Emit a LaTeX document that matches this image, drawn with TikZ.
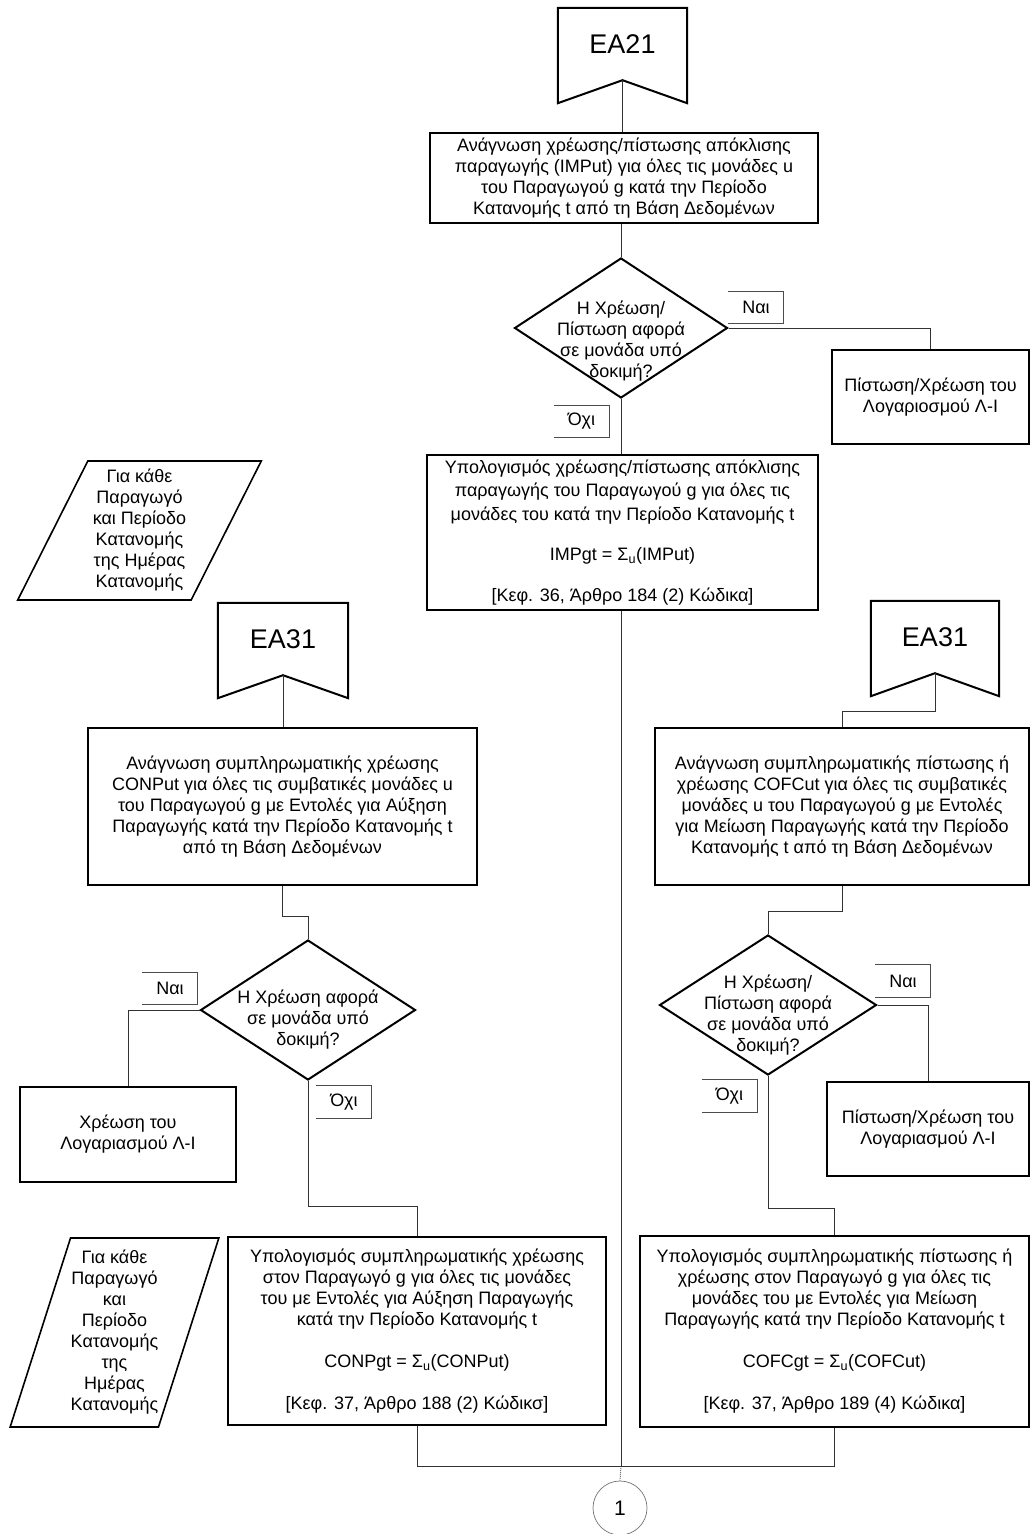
\documentclass[tikz,border=0pt]{standalone}
\usepackage{fontspec}
\setmainfont{Liberation Sans}
\usetikzlibrary{shapes.geometric, positioning}

\begin{document}
\begin{tikzpicture}[x=1pt, y=-1pt,
          font=\fontsize{18}{21}\selectfont,
          conn/.style={line width=1pt, draw=black!80},
          process/.style={draw, rectangle, line width=2pt, align=center, inner sep=2pt},
          decision/.style={draw, diamond, line width=2pt, inner sep=0pt, minimum width=213pt, minimum height=140pt},
          dtext/.style={align=center, inner sep=0pt},
          loopbox/.style={draw, trapezium, trapezium stretches=true, line width=1.6pt, align=center, inner sep=0pt},
          flagbox/.style={rectangle, minimum height=72pt, font=\fontsize{27}{30}\selectfont},
          answer/.style={rectangle, inner sep=0pt, minimum width=55pt, minimum height=32pt},
          pageref/.style={draw=black!55, circle, line width=0.7pt, minimum size=54pt, font=\fontsize{21}{24}\selectfont}
        ]
        \useasboundingbox (0,0) rectangle (1032,1534);

        % off-page starts
        \node[flagbox, minimum width=129pt] (ea21)  at (622.5,44) {EA21};
        \node[flagbox, minimum width=130pt] (ea31a) at (283,639)  {EA31};
        \node[flagbox, minimum width=128pt] (ea31b) at (935,637)  {EA31};
        \foreach \f in {ea21, ea31a, ea31b}
          \draw[line width=2pt] (\f.north west) -- (\f.north east) -- ([yshift=-23pt]\f.south east)
            -- (\f.south) -- ([yshift=-23pt]\f.south west) -- cycle;

        % loops
        \node[loopbox, trapezium left angle=62.6, trapezium right angle=117.4,
              minimum width=244pt, minimum height=139pt] (loop1) at (139.5,530.5)
          {Για κάθε\\ Παραγωγό\\ και Περίοδο\\ Κατανομής\\ της Ημέρας\\ Κατανομής};
        \node[loopbox, trapezium left angle=69.9, trapezium right angle=110.1,
              minimum width=209pt, minimum height=189pt] (loop2) at (114.5,1332.5)
          {Για κάθε\\ Παραγωγό\\ και\\ Περίοδο\\ Κατανομής\\ της\\ Ημέρας\\ Κατανομής};

        % middle column
        \node[process, minimum width=388pt, minimum height=90pt] (imp1) at (624,178)
          {Ανάγνωση χρέωσης/πίστωσης απόκλισης\\ παραγωγής (IMPut) για όλες τις μονάδες u\\
           του Παραγωγού g κατά την Περίοδο\\ Κατανομής t από τη Βάση Δεδομένων};
        \node[decision] (dec1) at (621,328) {};
        \node[dtext] (dec1t) at (621,341) {Η Χρέωση/\\ Πίστωση αφορά\\ σε μονάδα υπό\\ δοκιμή?};
        \node[process, minimum width=197pt, minimum height=94pt] (acc1) at (930.5,397)
          {Πίστωση/Χρέωση του\\ Λογαριοσμού Λ-I};
        \node[process, minimum width=391pt, minimum height=155pt, font=\fontsize{18}{23.5}\selectfont] (imp2) at (622.5,532.5)
          {Υπολογισμός χρέωσης/πίστωσης απόκλισης\\ παραγωγής του Παραγωγού g για όλες τις\\
           μονάδες του κατά την Περίοδο Κατανομής t\\[17pt] IMPgt = Σ\textsubscript{u}(IMPut)\\[17pt]
           {[}Κεφ. 36, Άρθρο 184 (2) Κώδικα{]}};

        % left column
        \node[process, minimum width=389pt, minimum height=157pt] (conr) at (282.5,806.5)
          {Ανάγνωση συμπληρωματικής χρέωσης\\ CONPut για όλες τις συμβατικές μονάδες u\\
           του Παραγωγού g με Εντολές για Αύξηση\\ Παραγωγής κατά την Περίοδο Κατανομής t\\
           από τη Βάση Δεδομένων};
        \node[decision, minimum width=215pt] (dec2) at (308,1010) {};
        \node[dtext] (dec2t) at (308,1020) {Η Χρέωση αφορά\\ σε μονάδα υπό\\ δοκιμή?};
        \node[process, minimum width=216pt, minimum height=95pt] (acc2) at (128,1134.5)
          {Χρέωση του\\ Λογαριασμού Λ-I};
        \node[process, minimum width=378pt, minimum height=188pt] (conc) at (417,1331)
          {Υπολογισμός συμπληρωματικής χρέωσης\\ στον Παραγωγό g για όλες τις μονάδες\\
           του με Εντολές για Αύξηση Παραγωγής\\ κατά την Περίοδο Κατανομής t\\[21pt]
           CONPgt = Σ\textsubscript{u}(CONPut)\\[21pt] {[}Κεφ. 37, Άρθρο 188 (2) Κώδικσ{]}};

        % right column
        \node[process, minimum width=374pt, minimum height=157pt] (cofr) at (842,806.5)
          {Ανάγνωση συμπληρωματικής πίστωσης ή\\ χρέωσης COFCut για όλες τις συμβατικές\\
           μονάδες u του Παραγωγού g με Εντολές\\ για Μείωση Παραγωγής κατά την Περίοδο\\
           Κατανομής t από τη Βάση Δεδομένων};
        \node[decision, minimum width=217pt] (dec3) at (768,1005) {};
        \node[dtext] (dec3t) at (768,1015) {Η Χρέωση/\\ Πίστωση αφορά\\ σε μονάδα υπό\\ δοκιμή?};
        \node[process, minimum width=202pt, minimum height=94pt] (acc3) at (928,1129)
          {Πίστωση/Χρέωση του\\ Λογαριασμού Λ-I};
        \node[process, minimum width=389pt, minimum height=191pt] (cofc) at (834.5,1331.5)
          {Υπολογισμός συμπληρωματικής πίστωσης ή\\ χρέωσης στον Παραγωγό g για όλες τις\\
           μονάδες του με Εντολές για Μείωση\\ Παραγωγής κατά την Περίοδο Κατανομής t\\[21pt]
           COFCgt = Σ\textsubscript{u}(COFCut)\\[21pt] {[}Κεφ. 37, Άρθρο 189 (4) Κώδικα{]}};

        % yes / no tags
        \node[answer] (yes1) at (756,307.5) {Ναι};
        \node[answer] (no1)  at (581.5,421.5) {Όχι};
        \node[answer] (yes2) at (170,988.5) {Ναι};
        \node[answer] (no2)  at (344,1102) {Όχι};
        \node[answer] (yes3) at (903,981) {Ναι};
        \node[answer] (no3)  at (729.5,1096) {Όχι};
        \foreach \a in {yes1, no1, yes2, no2, yes3, no3}
          \draw[line width=0.9pt, black!70] (\a.north west) -- (\a.north east) -- (\a.south east) -- (\a.south west);

        \node[pageref] (pg1) at (620,1508) {1};
        \coordinate (merge) at (621,1466);

        % connectors
        \draw[conn] (ea21.south) -- (ea21.south |- imp1.north);
        \draw[conn] (dec1.north |- imp1.south) -- (dec1.north);
        \draw[conn] (dec1.east) -| (acc1.north);
        \draw[conn] (dec1.south) -- (dec1.south |- imp2.north);
        \draw[conn] (merge |- imp2.south) -- (merge);
        \draw[conn, densely dotted, draw=black!55] (merge) -- (pg1.north);

        \draw[conn] (ea31a.south) -- (ea31a.south |- conr.north);
        \draw[conn] (conr.south) -- ++(0,30) -| (dec2.north);
        \draw[conn] (dec2.west) -| (acc2.north);
        \draw[conn] (dec2.south) -- ++(0,125) -| (conc.north);
        \draw[conn] (conc.south) |- (merge);

        \draw[conn] (ea31b.south) -- ++(0,38) -| (cofr.north);
        \draw[conn] (cofr.south) -- ++(0,25) -| (dec3.north);
        \draw[conn] (dec3.east) -| (acc3.north);
        \draw[conn] (dec3.south) -- ++(0,132) -| (cofc.north);
        \draw[conn] (cofc.south) |- (merge);
      \end{tikzpicture}
\end{document}
